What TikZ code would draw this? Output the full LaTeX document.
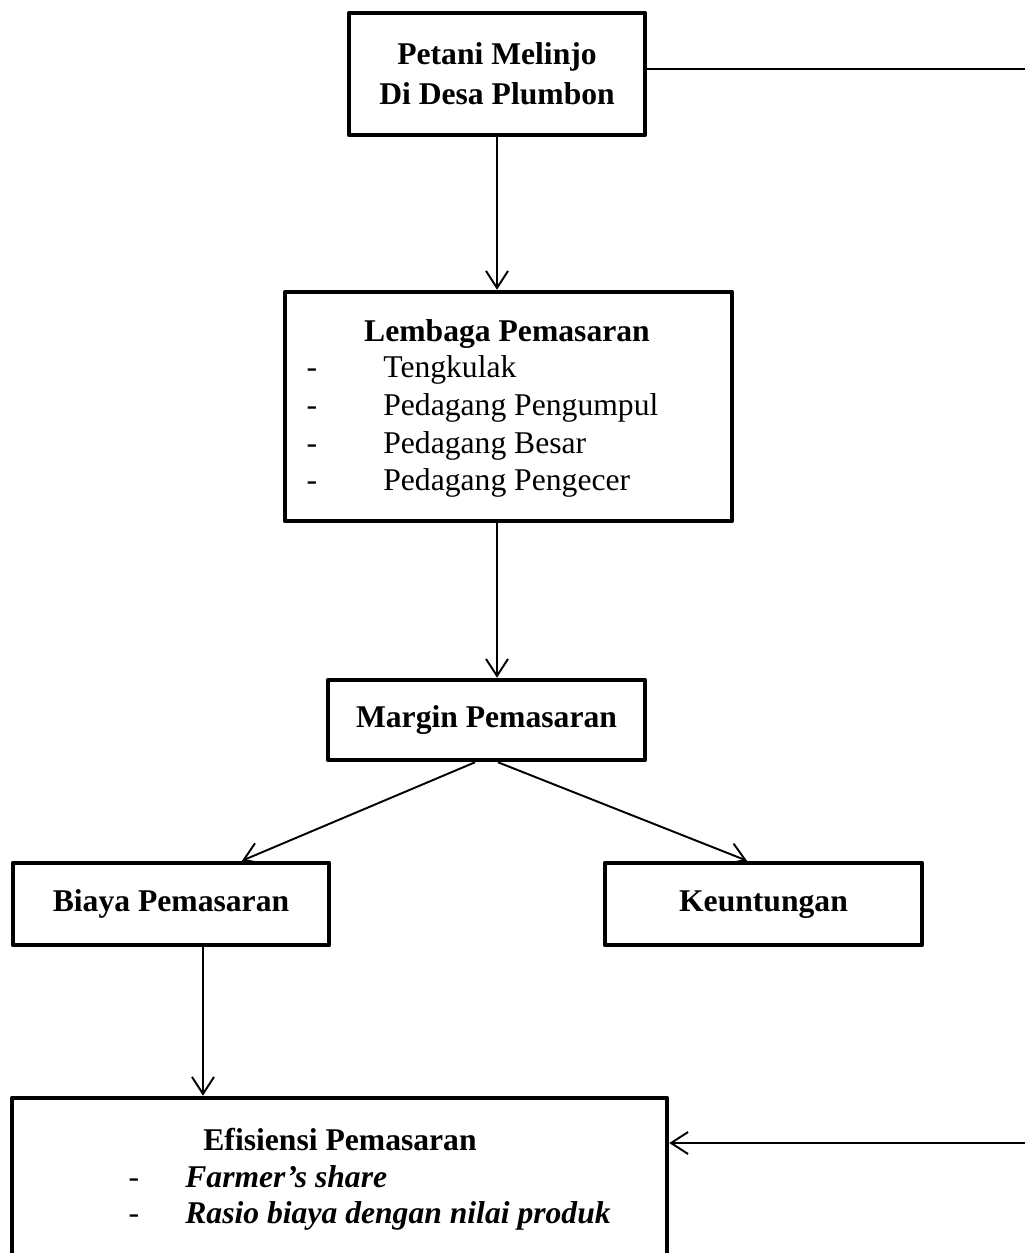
\documentclass[tikz,border=0pt]{standalone}
\usepackage{fontspec}
\setmainfont{Liberation Serif}
\usetikzlibrary{arrows.meta, positioning, calc}

\begin{document}
\begin{tikzpicture}[
        box/.style={rectangle, draw, line width=2.6pt, line join=round, align=center, font=\bfseries\fontsize{18}{22.7}\selectfont},
        onebox/.style={box, text height=12pt, text depth=4pt},
        listtxt/.style={inner sep=0pt, text height=12pt, text depth=4pt, font=\fontsize{18}{21}\selectfont},
        arrow/.style={-{Straight Barb[length=3.4mm, width=4.4mm]}, line width=1.1pt}
    ]
        \useasboundingbox (0,0) rectangle (20.5,-25.06);

        % Boxes
        \node[box, minimum width=5.92cm, minimum height=2.44cm] (petani) at (9.94, -1.48) {Petani Melinjo\\Di Desa Plumbon};
        \node[box, minimum width=8.94cm, minimum height=4.58cm] (lembaga) at (10.17, -8.13) {};
        \node[onebox, minimum width=6.34cm, minimum height=1.6cm] (margin) at (9.73, -14.4) {Margin Pemasaran};
        \node[onebox, minimum width=6.32cm, minimum height=1.64cm] (biaya) at (3.42, -18.08) {Biaya Pemasaran};
        \node[onebox, minimum width=6.34cm, minimum height=1.64cm] (untung) at (15.27, -18.08) {Keuntungan};
        \node[box, minimum width=13.1cm, minimum height=3.84cm] (efisiensi) at (6.79, -23.88) {};

        % Lembaga Pemasaran list
        \node[listtxt, font=\bfseries\fontsize{18}{21}\selectfont] (lembagaT) at (10.14, -6.68) {Lembaga Pemasaran};
        \node[listtxt] (dash1) at (6.24, -7.40) {-};
        \node[listtxt] (dash2) at (6.24, -8.16) {-};
        \node[listtxt] (dash3) at (6.24, -8.92) {-};
        \node[listtxt] (dash4) at (6.24, -9.66) {-};
        \node[listtxt, anchor=west] (tengkulak) at (7.66, -7.40) {Tengkulak};
        \node[listtxt, anchor=west] (pengumpul) at (7.66, -8.16) {Pedagang Pengumpul};
        \node[listtxt, anchor=west] (besar) at (7.66, -8.92) {Pedagang Besar};
        \node[listtxt, anchor=west] (pengecer) at (7.66, -9.66) {Pedagang Pengecer};

        % Efisiensi Pemasaran list
        \node[listtxt, font=\bfseries\fontsize{18}{21}\selectfont] (efisiensiT) at (6.80, -22.86) {Efisiensi Pemasaran};
        \node[listtxt] (dash5) at (2.68, -23.60) {-};
        \node[listtxt] (dash6) at (2.68, -24.32) {-};
        \node[listtxt, anchor=west, font=\bfseries\itshape\fontsize{18}{21}\selectfont] (share) at (3.70, -23.60) {Farmer’s share};
        \node[listtxt, anchor=west, font=\bfseries\itshape\fontsize{18}{21}\selectfont] (rasio) at (3.70, -24.32) {Rasio biaya dengan nilai produk};

        % Arrows down
        \draw[arrow] (petani.south) -- (petani.south |- lembaga.north);
        \draw[arrow] (lembaga.south -| petani.south) -- (petani.south |- margin.north);
        \draw[arrow] ([xshift=-0.23cm]margin.south) -- ([xshift=1.42cm]biaya.north);
        \draw[arrow] ([xshift=0.23cm]margin.south) -- ([xshift=-0.33cm]untung.north);
        \coordinate (bdown) at ([xshift=0.64cm]biaya.south);
        \draw[arrow] (bdown) -- (bdown |- efisiensi.north);

        % Feedback line (runs outside the page on the right)
        \coordinate (fbTop) at (20.8, -1.38);
        \coordinate (fbBot) at (20.8, -22.86);
        \draw[arrow] (petani.east |- fbTop) -- (fbTop) -- (fbBot) -- (efisiensi.east |- fbBot);
    \end{tikzpicture}
\end{document}
